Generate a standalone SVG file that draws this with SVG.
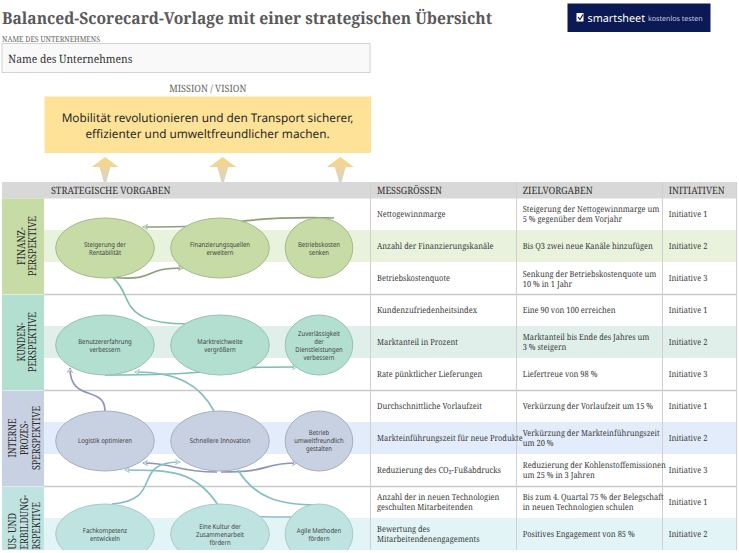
<svg xmlns="http://www.w3.org/2000/svg" width="739" height="553" viewBox="0 0 739 553">
<style>
text{text-rendering:geometricPrecision}
.s{font-family:"Noto Serif","DejaVu Serif","Liberation Serif",serif}
.n{font-family:"Noto Sans","Open Sans","Liberation Sans",sans-serif}
.t{font-size:8.5px;fill:#3a3a3a}
.h{font-size:10px;fill:#333}
.v{font-size:11px;fill:#2a2a2a;text-anchor:middle}
.ve{text-anchor:end}
.e{font-size:6.800px;fill:#3d3d3d;text-anchor:middle}
.c{fill:none;stroke-width:1.7}
.cg{stroke:#8c9f76}.cm{stroke:#7cc0a8}.cb{stroke:#84bec6}.cp{stroke:#8e95bb}
.g1{fill:#c6dba6;stroke:#a5ba8b}.g2{fill:#b3dfd0;stroke:#97c2b3}.g3{fill:#c8d1e2;stroke:#a7aebf}.g4{fill:#bfe3e0;stroke:#a6cbc9}
.l{stroke:#d0d0d0;stroke-width:1}
.r{stroke:#c9c9c9;stroke-width:1.6}
</style>
<defs>
<linearGradient id="up" x1="0" y1="0" x2="0" y2="1"><stop offset="0" stop-color="#fbd67e"/><stop offset="1" stop-color="#d6d3cf"/></linearGradient>
<clipPath id="page"><rect x="0" y="0" width="739" height="550"/></clipPath>
<marker id="ag" viewBox="0 0 8 8" refX="7" refY="4" markerWidth="6" markerHeight="6" markerUnits="userSpaceOnUse" orient="auto"><path d="M1,0.5 L7.5,4 L1,7.5 L3,4Z" fill="#dfe6d2" stroke="#8c9f76" stroke-width=".7"/></marker>
<marker id="am" viewBox="0 0 8 8" refX="7" refY="4" markerWidth="6" markerHeight="6" markerUnits="userSpaceOnUse" orient="auto"><path d="M1,0.5 L7.5,4 L1,7.5 L3,4Z" fill="#d8eee6" stroke="#7cc0a8" stroke-width=".7"/></marker>
<marker id="ab" viewBox="0 0 8 8" refX="7" refY="4" markerWidth="6" markerHeight="6" markerUnits="userSpaceOnUse" orient="auto"><path d="M1,0.5 L7.5,4 L1,7.5 L3,4Z" fill="#d5ebee" stroke="#84bec6" stroke-width=".7"/></marker>
<marker id="ap" viewBox="0 0 8 8" refX="7" refY="4" markerWidth="6" markerHeight="6" markerUnits="userSpaceOnUse" orient="auto"><path d="M1,0.5 L7.5,4 L1,7.5 L3,4Z" fill="#dcdeea" stroke="#8e95bb" stroke-width=".7"/></marker>
</defs>
<rect width="739" height="553" fill="#fff"/>
<text class="s" x="2" y="24" font-size="16.500" font-weight="700" fill="#595959" textLength="490" lengthAdjust="spacingAndGlyphs">Balanced-Scorecard-Vorlage mit einer strategischen Übersicht</text>
<text class="s" x="2" y="41.500" font-size="7.900" fill="#666" textLength="98" lengthAdjust="spacingAndGlyphs">NAME DES UNTERNEHMENS</text>
<rect x="2" y="43.500" width="368" height="29" fill="#f9f9f9" stroke="#d2d2d2"/>
<text class="s" x="8.300" y="63" font-size="11.400" fill="#333" textLength="124" lengthAdjust="spacingAndGlyphs">Name des Unternehmens</text>
<text class="s" x="169.300" y="92" font-size="10" fill="#666" textLength="77" lengthAdjust="spacingAndGlyphs">MISSION / VISION</text>
<rect x="44.500" y="96.500" width="326.500" height="56.500" fill="#fde297"/>
<text class="n" x="207.500" y="122" font-size="11.800" fill="#2a2a2a" text-anchor="middle">Mobilität revolutionieren und den Transport sicherer,</text>
<text class="n" x="207.500" y="138" font-size="11.800" fill="#2a2a2a" text-anchor="middle">effizienter und umweltfreundlicher machen.</text>
<g id="logo">
<rect x="567.500" y="3.500" width="143" height="28.500" fill="#0b1a55"/>
<rect x="576.500" y="13" width="7" height="8.500" fill="#fff"/>
<path d="M578,17 L580,19.500 L583,14.500" fill="none" stroke="#0b1a55" stroke-width="1.200"/>
<text class="n" x="587.500" y="21.500" font-size="10.800" fill="#fff">smartsheet</text>
<text class="n" x="648" y="20.500" font-size="7.100" fill="#c8cde0">kostenlos testen</text>
</g>
<g id="mission-arrows" fill="url(#up)">
<path d="M105,157 L118.500,167 L110.500,167 L106.200,182 L103.800,182 L99.500,167 L91.500,167Z"/>
<path d="M222.700,157 L236.200,167 L228.200,167 L223.900,182 L221.500,182 L217.200,167 L209.200,167Z"/>
<path d="M340.300,157 L353.800,167 L345.800,167 L341.500,182 L339.100,182 L334.800,167 L326.800,167Z"/>
</g>
<g clip-path="url(#page)">
<g id="table">
<rect x="2" y="182" width="735" height="16.500" fill="#d9d8d8"/>
<rect x="2" y="198.500" width="42" height="96" fill="#c6dba6"/>
<rect x="2" y="295" width="42" height="95.500" fill="#b3dfd0"/>
<rect x="2" y="391" width="42" height="95.500" fill="#c8d1e2"/>
<rect x="2" y="487" width="42" height="66" fill="#bfe3e0"/>
<rect x="44" y="230" width="693" height="32" fill="#e8f2dc"/>
<rect x="44" y="326" width="693" height="32" fill="#e0efe9"/>
<rect x="44" y="422" width="693" height="32" fill="#e3ecfb"/>
<rect x="44" y="518" width="693" height="32" fill="#e2f4f6"/>
<path class="r" d="M44,294.500H737M44,390.500H737M44,486.500H737"/>
<path class="l" d="M370.500,182V550M516.500,182V550M662.500,182V550M736.500,182V550"/>
</g>
<g class="s h">
<text x="51" y="194" textLength="119.500" lengthAdjust="spacingAndGlyphs">STRATEGISCHE VORGABEN</text>
<text x="377" y="194" textLength="65" lengthAdjust="spacingAndGlyphs">MESSGRÖSSEN</text>
<text x="522.700" y="194" textLength="70" lengthAdjust="spacingAndGlyphs">ZIELVORGABEN</text>
<text x="668.700" y="194" textLength="56" lengthAdjust="spacingAndGlyphs">INITIATIVEN</text>
</g>
<g class="s v">
<text transform="translate(24.500,246) rotate(-90)" textLength="38" lengthAdjust="spacingAndGlyphs">FINANZ-</text>
<text transform="translate(35.500,246) rotate(-90)" textLength="60" lengthAdjust="spacingAndGlyphs">PERSPEKTIVE</text>
<text transform="translate(24.500,342) rotate(-90)" textLength="39" lengthAdjust="spacingAndGlyphs">KUNDEN-</text>
<text transform="translate(35.500,342) rotate(-90)" textLength="60" lengthAdjust="spacingAndGlyphs">PERSPEKTIVE</text>
<text transform="translate(15.500,438) rotate(-90)" textLength="39" lengthAdjust="spacingAndGlyphs">INTERNE</text>
<text transform="translate(28,438) rotate(-90)" textLength="34" lengthAdjust="spacingAndGlyphs">PROZES-</text>
<text transform="translate(40,438) rotate(-90)" textLength="64" lengthAdjust="spacingAndGlyphs">SPERSPEKTIVE</text>
<text class="ve" transform="translate(15.500,513) rotate(-90)" textLength="36.500" lengthAdjust="spacingAndGlyphs">US- UND</text>
<text class="ve" transform="translate(28,495) rotate(-90)" textLength="54.500" lengthAdjust="spacingAndGlyphs">ERBILDUNG-</text>
<text class="ve" transform="translate(40,502) rotate(-90)" textLength="47.500" lengthAdjust="spacingAndGlyphs">RSPEKTIVE</text>
</g>
<g id="connectors">
<path class="c cg" marker-end="url(#ag)" d="M334,218 C290,217 250,219 225,224 C210,227 175,227 143,227"/>
<path class="c cg" marker-end="url(#ag)" d="M113,277.500 C160,281 140,268 183,268"/>
<path class="c cm" d="M113,278 C135,296 115,324 190,324"/>
<path class="c cm" marker-end="url(#am)" d="M240,368 C255,367 275,367 297,367"/>
<path class="c cm" d="M105,375 C140,375 180,375 210,371"/>
<path class="c cb" marker-end="url(#ab)" d="M214,411 C200,385 178,372 135,372"/>
<path class="c cp" marker-end="url(#ap)" d="M105,411 C105,385 70,403 70,368"/>
<path class="c cp" marker-end="url(#ap)" d="M217,472 C175,472 175,463 143,463"/>
<path class="c cp" marker-end="url(#ap)" d="M221,472 C275,472 260,463 297,463"/>
<path class="c cb" marker-end="url(#ab)" d="M112,504 C165,500 130,462 180,462"/>
<path class="c cb" marker-end="url(#ab)" d="M218,505 C195,470 170,470 125,470"/>
<path class="c cb" d="M238,470 C255,498 280,505 317,505"/>
<path class="c cb" d="M255,516.500 C270,517 280,517 295,517"/>
</g>
<g id="n-steigerung"><ellipse class="g1" cx="105" cy="248" rx="49.300" ry="30"/><g class="n e" transform="translate(105,0) scale(.875,1)"><text y="246.500">Steigerung der</text><text y="254.500">Rentabilität</text></g></g>
<g id="n-finanzierung"><ellipse class="g1" cx="220" cy="248" rx="49.300" ry="30"/><g class="n e" transform="translate(220,0) scale(.875,1)"><text y="246.500">Finanzierungsquellen</text><text y="254.500">erweitern</text></g></g>
<g id="n-betriebskosten"><ellipse class="g1" cx="319" cy="248" rx="33.800" ry="30"/><g class="n e" transform="translate(319,0) scale(.875,1)"><text y="246.500">Betriebskosten</text><text y="254.500">senken</text></g></g>
<g id="n-benutzer"><ellipse class="g2" cx="105" cy="345" rx="49.300" ry="30"/><g class="n e" transform="translate(105,0) scale(.875,1)"><text y="343.500">Benutzererfahrung</text><text y="351.500">verbessern</text></g></g>
<g id="n-markt"><ellipse class="g2" cx="220" cy="345" rx="49.300" ry="30"/><g class="n e" transform="translate(220,0) scale(.875,1)"><text y="343.500">Marktreichweite</text><text y="351.500">vergrößern</text></g></g>
<g id="n-zuverl"><ellipse class="g2" cx="319" cy="345" rx="33.800" ry="30"/><g class="n e" transform="translate(319,0) scale(.875,1)"><text y="335.500">Zuverlässigkeit</text><text y="343.500">der</text><text y="351.500">Dienstleistungen</text><text y="359.500">verbessern</text></g></g>
<g id="n-logistik"><ellipse class="g3" cx="105" cy="441" rx="49.300" ry="30"/><g class="n e" transform="translate(105,0) scale(.875,1)"><text y="443">Logistik optimieren</text></g></g>
<g id="n-innovation"><ellipse class="g3" cx="220" cy="441" rx="49.300" ry="30"/><g class="n e" transform="translate(220,0) scale(.875,1)"><text y="443">Schnellere Innovation</text></g></g>
<g id="n-betrieb"><ellipse class="g3" cx="319" cy="441" rx="33.800" ry="30"/><g class="n e" transform="translate(319,0) scale(.875,1)"><text y="435">Betrieb</text><text y="443">umweltfreundlich</text><text y="451">gestalten</text></g></g>
<g id="n-fach"><ellipse class="g4" cx="105" cy="534" rx="49.300" ry="30"/><g class="n e" transform="translate(105,0) scale(.875,1)"><text y="532.500">Fachkompetenz</text><text y="540.500">entwickeln</text></g></g>
<g id="n-kultur"><ellipse class="g4" cx="220" cy="534" rx="49.300" ry="30"/><g class="n e" transform="translate(220,0) scale(.875,1)"><text y="528.500">Eine Kultur der</text><text y="536.500">Zusammenarbeit</text><text y="544.500">fördern</text></g></g>
<g id="n-agile"><ellipse class="g4" cx="319" cy="534" rx="33.800" ry="30"/><g class="n e" transform="translate(319,0) scale(.875,1)"><text y="532.500">Agile Methoden</text><text y="540.500">fördern</text></g></g>
<g class="s t" transform="scale(.88,1)">
<text x="428.400" y="217">Nettogewinnmarge</text>
<text x="594" y="212">Steigerung der Nettogewinnmarge um</text><text x="594" y="222">5 % gegenüber dem Vorjahr</text>
<text x="759.900" y="217">Initiative 1</text>
<text x="428.400" y="249">Anzahl der Finanzierungskanäle</text>
<text x="594" y="249">Bis Q3 zwei neue Kanäle hinzufügen</text>
<text x="759.900" y="249">Initiative 2</text>
<text x="428.400" y="281">Betriebskostenquote</text>
<text x="594" y="276.500">Senkung der Betriebskostenquote um</text><text x="594" y="286.500">10 % in 1 Jahr</text>
<text x="759.900" y="281">Initiative 3</text>
<text x="428.400" y="313">Kundenzufriedenheitsindex</text>
<text x="594" y="313">Eine 90 von 100 erreichen</text>
<text x="759.900" y="313">Initiative 1</text>
<text x="428.400" y="345">Marktanteil in Prozent</text>
<text x="594" y="340">Marktanteil bis Ende des Jahres um</text><text x="594" y="350">3 % steigern</text>
<text x="759.900" y="345">Initiative 2</text>
<text x="428.400" y="377">Rate pünktlicher Lieferungen</text>
<text x="594" y="377">Liefertreue von 98 %</text>
<text x="759.900" y="377">Initiative 3</text>
<text x="428.400" y="409">Durchschnittliche Vorlaufzeit</text>
<text x="594" y="409">Verkürzung der Vorlaufzeit um 15 %</text>
<text x="759.900" y="409">Initiative 1</text>
<text x="428.400" y="441">Markteinführungszeit für neue Produkte</text>
<text x="594" y="436">Verkürzung der Markteinführungszeit</text><text x="594" y="446">um 20 %</text>
<text x="759.900" y="441">Initiative 2</text>
<text x="428.400" y="473">Reduzierung des CO₂-Fußabdrucks</text>
<text x="594" y="468">Reduzierung der Kohlenstoffemissionen</text><text x="594" y="478">um 25 % in 3 Jahren</text>
<text x="759.900" y="473">Initiative 3</text>
<text x="428.400" y="500">Anzahl der in neuen Technologien</text><text x="428.400" y="510">geschulten Mitarbeitenden</text>
<text x="594" y="500">Bis zum 4. Quartal 75 % der Belegschaft</text><text x="594" y="510">in neuen Technologien schulen</text>
<text x="759.900" y="505">Initiative 1</text>
<text x="428.400" y="532">Bewertung des</text><text x="428.400" y="542">Mitarbeitendenengagements</text>
<text x="594" y="537">Positives Engagement von 85 %</text>
<text x="759.900" y="537">Initiative 2</text>
</g>
</g>
</svg>
